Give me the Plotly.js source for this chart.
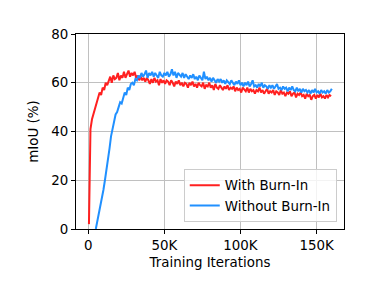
<!DOCTYPE html>
<html><head><meta charset="utf-8">
<script src="https://cdn.plot.ly/plotly-3.0.1.min.js"></script>
<style>html,body{margin:0;padding:0;background:#fff}#chart{width:382px;height:286px}</style>
</head><body><div id="chart"></div>
<script>
var redIter = [];
for (var k = 500; k <= 159500; k += 1000) redIter.push(k);
var redValues = [2,41,45,47,49,52,53,56,55,58,57,60,59,61,62.5,60,63,61.5,62,64,61,63,62,64.5,62,63.5,65,62.5,64,63,64.5,62,63,61,62.5,61,62,60.5,62,61,59.5,61.5,60,62,60.5,61,59,61.5,60,61,59.5,61,60.5,59,61,60,58.5,60.5,59.5,61,59,60,58.5,60,59.5,58,60,59,60.5,58.5,59.5,58,60,59,58.5,60,57.5,59,58.5,60,58,59,57,59.5,58,57.5,59,58,57,58.5,57.5,59,57,58,57.5,58.5,56.5,58,57,57.5,56,58,57,56.5,58,56,57.5,56.5,57,55.5,57,56.5,58,56,57,55.5,56.5,57.5,55.5,56.5,56,57,55,56.5,56,55,57,55.5,56,54.5,56,55.5,56.5,54.5,55.5,56,54,55.5,55,56,54.5,55,53.5,55.5,54.5,55,53,54.5,55,53.5,55,54,55.5,54,54.5,53.5,55,54,55,54.5];
var blueIter = [];
for (var j = 5000; j <= 160000; j += 1000) blueIter.push(j);
var blueValues = [0,3,6,9,13,16,20,24,28,33,38,42,44,47,48,50,52,51.5,54,56,55,58,57,59.5,60,59,61.5,61,63,62,64,62.5,63.5,65,62,64,63,64.5,62.5,64,63,62,64.5,63,62.5,64,63,64.5,62.5,63.5,65.5,63,64.5,62,64,63,62.5,64,62,63.5,62.5,61.5,63,62,63.5,61.5,62.5,61,63,62,61,64.5,61.5,62.5,61,62,60.5,62,61,60,61.5,60.5,61.5,60,61,59.5,61,60,59.5,61,60,59,60.5,59.5,61,59,60,58.5,60,59,60.5,58.5,59.5,61,58.5,59,58,59.5,58.5,60,58,59,58.5,57.5,59,58,59,57.5,58.5,59.5,57.5,58,57,58.5,57.5,58,56.5,58,57,58.5,57,56.5,58,56.5,57.5,56,57.5,56.5,57,56,57,55.5,57,56,57.5,56,56.5,55.5,57,56,56.5,55.5,57,56,56.5,57.5];
var seriesNames = ["With Burn-In", "Without Burn-In"];
var xTickVals = [0, 50000, 100000, 150000];
var xTickText = ["0", "50K", "100K", "150K"];
var yTickVals = [0, 20, 40, 60, 80];

var font = {family: "DejaVu Sans", size: 13.4, color: "#000"};
var traces = [
  {x: redIter, y: redValues, name: seriesNames[0], type: "scatter", mode: "lines",
   line: {color: "#ff2020", width: 2}},
  {x: blueIter, y: blueValues, name: seriesNames[1], type: "scatter", mode: "lines",
   line: {color: "#2090ff", width: 2}}
];
var axisCommon = {showline: true, linecolor: "#000", linewidth: 1, mirror: true,
  ticks: "outside", ticklen: 4, tickcolor: "#000", tickwidth: 1,
  showgrid: true, gridcolor: "#c0c0c0", gridwidth: 1, zeroline: false,
  tickfont: font};
var layout = {
  width: 382, height: 286,
  margin: {l: 76, r: 38, t: 34, b: 57},
  paper_bgcolor: "#fff", plot_bgcolor: "#fff",
  font: font,
  showlegend: true,
  legend: {x: 0.973, y: 0.036, xanchor: "right", yanchor: "bottom",
    bordercolor: "#cccccc", borderwidth: 1, bgcolor: "rgba(255,255,255,0.8)",
    font: font, tracegroupgap: 0, itemwidth: 30},
  xaxis: Object.assign({}, axisCommon, {range: [-8000, 168000],
    tickvals: xTickVals, ticktext: xTickText,
    title: {text: "Training Iterations", font: font, standoff: 5}}),
  yaxis: Object.assign({}, axisCommon, {range: [0, 80],
    tickvals: yTickVals,
    title: {text: "mIoU (%)", font: font, standoff: 9}})
};
Plotly.newPlot("chart", traces, layout, {displayModeBar: false, staticPlot: true});
</script>
</body></html>
